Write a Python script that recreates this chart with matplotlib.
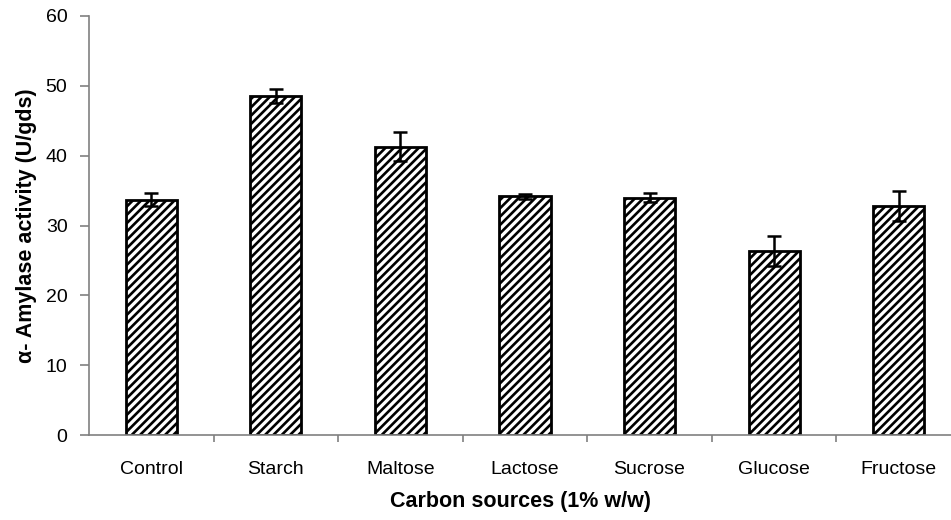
import numpy as np
import matplotlib.pyplot as plt

plt.rcParams['font.family'] = ['Liberation Sans', 'DejaVu Sans']
plt.rcParams['hatch.linewidth'] = 1.9

sources = ['Control', 'Starch', 'Maltose', 'Lactose', 'Sucrose', 'Glucose', 'Fructose']
activity = [33.7, 48.5, 41.3, 34.2, 34.0, 26.4, 32.8]
errors = [0.9, 1.0, 2.1, 0.35, 0.6, 2.15, 2.2]

fig = plt.figure(figsize=(9.51, 5.2), dpi=100)
ax = fig.add_axes([89/951, 85/520, 1 - 89/951, 419/520])

x = np.arange(len(sources))
ax.bar(x, activity, width=0.41, color='white', edgecolor='black',
       linewidth=2, hatch='////', zorder=2)
ax.errorbar(x, activity, yerr=errors, fmt='none', ecolor='black',
            elinewidth=1.8, capsize=5, capthick=1.8, zorder=3)

ax.set_xlim(-0.5, 6.42)
ax.set_ylim(0, 60)
ax.set_yticks(range(0, 61, 10))
ax.set_xticks(x)
ax.set_xticklabels(sources)
ax.set_xticks(np.arange(0.5, 6.5, 1), minor=True)
ax.tick_params(axis='x', which='major', length=0, pad=19, labelsize=14)
ax.tick_params(axis='x', which='minor', length=5, direction='out', color='#808080', width=1.2)
ax.tick_params(axis='y', length=6.5, direction='out', color='#808080', width=1.2,
               labelsize=14, pad=9)

for s in ['top', 'right']:
    ax.spines[s].set_visible(False)
for s in ['left', 'bottom']:
    ax.spines[s].set_color('#808080')
    ax.spines[s].set_linewidth(1.2)

ax.set_xlabel('Carbon sources (1% w/w)', fontsize=15.5, fontweight='bold', labelpad=9)
ax.set_ylabel('α- Amylase activity (U/gds)', fontsize=15.5, fontweight='bold', labelpad=6)

fig.savefig('out.png', dpi=100)
